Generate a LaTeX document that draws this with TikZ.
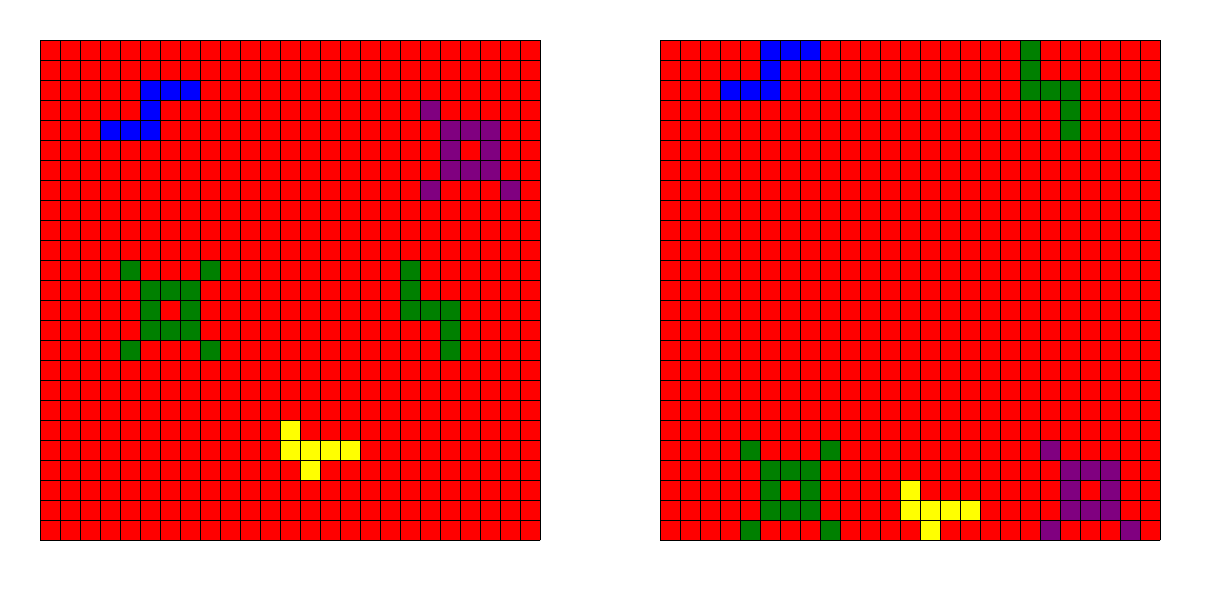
\documentclass[tikz,border=0pt]{standalone}
\definecolor{cRed}{HTML}{FF0000}
\definecolor{cBlue}{HTML}{0000FF}
\definecolor{cGreen}{HTML}{008000}
\definecolor{cPurple}{HTML}{800080}
\definecolor{cYellow}{HTML}{FFFF00}
\newcommand\pcells[3]{\foreach \r/\c in {#3} {\fill[#2] ({#1+20*\c},{40+20*\r}) rectangle ++(20,20);}}
\newcommand\pgridlines[1]{\foreach \i in {0,...,25} {\draw[gridline] ({#1+20*\i},40) -- ({#1+20*\i},540); \draw[gridline] (#1,{40+20*\i}) -- ({#1+500},{40+20*\i});}}
\begin{document}
\begin{tikzpicture}[x=1pt,y=-1pt,gridline/.style={draw=black,line width=0.9pt,line cap=rect}]
\useasboundingbox (0,0) rectangle (1220,600);
% left grid
\fill[cRed] (40,40) rectangle (540,540);
\pcells{40}{cBlue}{2/5,2/6,2/7,3/5,4/3,4/4,4/5}
\pcells{40}{cPurple}{3/19,4/20,4/21,4/22,5/20,5/22,6/20,6/21,6/22,7/19,7/23}
\pcells{40}{cGreen}{11/4,11/8,12/5,12/6,12/7,13/5,13/7,14/5,14/6,14/7,15/4,15/8,11/18,12/18,13/18,13/19,13/20,14/20,15/20}
\pcells{40}{cYellow}{19/12,20/12,20/13,20/14,20/15,21/13}
\pgridlines{40}
% right grid
\fill[cRed] (660,40) rectangle (1160,540);
\pcells{660}{cBlue}{0/5,0/6,0/7,1/5,2/3,2/4,2/5}
\pcells{660}{cGreen}{0/18,1/18,2/18,2/19,2/20,3/20,4/20,20/4,20/8,21/5,21/6,21/7,22/5,22/7,23/5,23/6,23/7,24/4,24/8}
\pcells{660}{cYellow}{22/12,23/12,23/13,23/14,23/15,24/13}
\pcells{660}{cPurple}{20/19,21/20,21/21,21/22,22/20,22/22,23/20,23/21,23/22,24/19,24/23}
\pgridlines{660}
\end{tikzpicture}
\end{document}
